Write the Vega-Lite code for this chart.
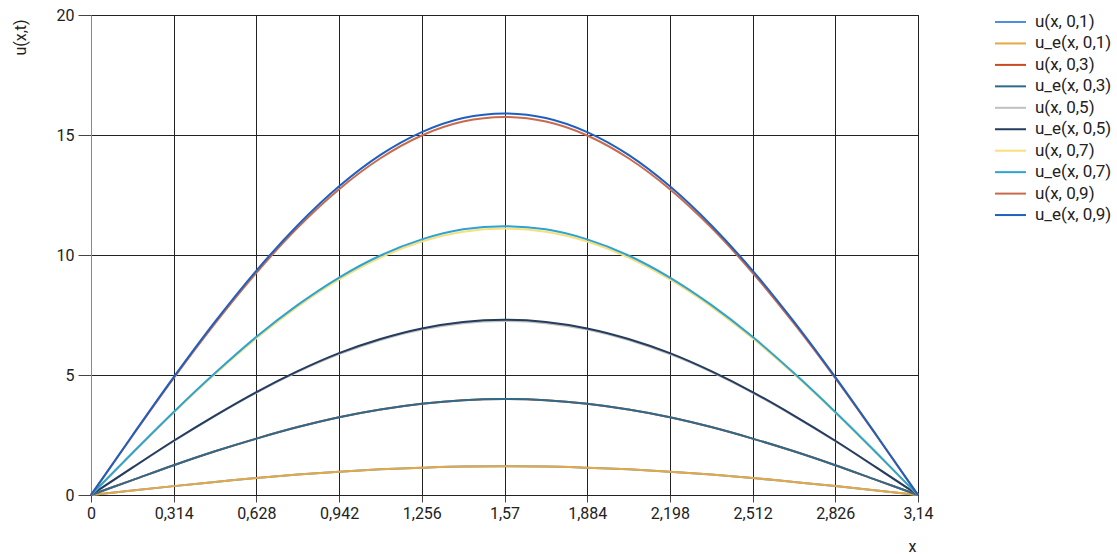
{
  "$schema": "https://vega.github.io/schema/vega-lite/v6.json",
  "width": 827,
  "height": 480,
  "autosize": "none",
  "padding": {"left": 91, "top": 15, "right": 199, "bottom": 59},
  "background": "white",
  "config": {
    "font": "Roboto",
    "view": {"stroke": "#222", "strokeWidth": 1},
    "axis": {
      "labelFont": "Roboto", "labelFontSize": 16, "labelColor": "#222",
      "titleFont": "Roboto", "titleFontSize": 16, "titleColor": "#222", "titleFontWeight": "normal",
      "gridColor": "#222", "gridOpacity": 1, "gridWidth": 1,
      "domainColor": "#444", "tickColor": "#444"
    },
    "legend": {"labelFont": "Roboto", "labelFontSize": 17, "labelColor": "#222"}
  },
  "datasets": {
    "pts": [
      {"s": "u(x, 0,1)", "x": 0, "y": 0}, {"s": "u(x, 0,1)", "x": 0.157, "y": 0.19}, {"s": "u(x, 0,1)", "x": 0.314, "y": 0.37}, {"s": "u(x, 0,1)", "x": 0.471, "y": 0.54}, {"s": "u(x, 0,1)", "x": 0.628, "y": 0.71}, {"s": "u(x, 0,1)", "x": 0.785, "y": 0.85}, {"s": "u(x, 0,1)", "x": 0.942, "y": 0.97}, {"s": "u(x, 0,1)", "x": 1.099, "y": 1.07}, {"s": "u(x, 0,1)", "x": 1.256, "y": 1.14}, {"s": "u(x, 0,1)", "x": 1.413, "y": 1.19}, {"s": "u(x, 0,1)", "x": 1.57, "y": 1.2}, {"s": "u(x, 0,1)", "x": 1.727, "y": 1.19}, {"s": "u(x, 0,1)", "x": 1.884, "y": 1.14}, {"s": "u(x, 0,1)", "x": 2.041, "y": 1.07}, {"s": "u(x, 0,1)", "x": 2.198, "y": 0.97}, {"s": "u(x, 0,1)", "x": 2.355, "y": 0.85}, {"s": "u(x, 0,1)", "x": 2.512, "y": 0.71}, {"s": "u(x, 0,1)", "x": 2.669, "y": 0.54}, {"s": "u(x, 0,1)", "x": 2.826, "y": 0.37}, {"s": "u(x, 0,1)", "x": 2.983, "y": 0.19}, {"s": "u(x, 0,1)", "x": 3.14, "y": 0},
      {"s": "u_e(x, 0,1)", "x": 0, "y": 0}, {"s": "u_e(x, 0,1)", "x": 0.157, "y": 0.19}, {"s": "u_e(x, 0,1)", "x": 0.314, "y": 0.37}, {"s": "u_e(x, 0,1)", "x": 0.471, "y": 0.54}, {"s": "u_e(x, 0,1)", "x": 0.628, "y": 0.71}, {"s": "u_e(x, 0,1)", "x": 0.785, "y": 0.85}, {"s": "u_e(x, 0,1)", "x": 0.942, "y": 0.97}, {"s": "u_e(x, 0,1)", "x": 1.099, "y": 1.07}, {"s": "u_e(x, 0,1)", "x": 1.256, "y": 1.14}, {"s": "u_e(x, 0,1)", "x": 1.413, "y": 1.19}, {"s": "u_e(x, 0,1)", "x": 1.57, "y": 1.2}, {"s": "u_e(x, 0,1)", "x": 1.727, "y": 1.19}, {"s": "u_e(x, 0,1)", "x": 1.884, "y": 1.14}, {"s": "u_e(x, 0,1)", "x": 2.041, "y": 1.07}, {"s": "u_e(x, 0,1)", "x": 2.198, "y": 0.97}, {"s": "u_e(x, 0,1)", "x": 2.355, "y": 0.85}, {"s": "u_e(x, 0,1)", "x": 2.512, "y": 0.71}, {"s": "u_e(x, 0,1)", "x": 2.669, "y": 0.54}, {"s": "u_e(x, 0,1)", "x": 2.826, "y": 0.37}, {"s": "u_e(x, 0,1)", "x": 2.983, "y": 0.19}, {"s": "u_e(x, 0,1)", "x": 3.14, "y": 0},
      {"s": "u(x, 0,3)", "x": 0, "y": 0}, {"s": "u(x, 0,3)", "x": 0.157, "y": 0.62}, {"s": "u(x, 0,3)", "x": 0.314, "y": 1.24}, {"s": "u(x, 0,3)", "x": 0.471, "y": 1.82}, {"s": "u(x, 0,3)", "x": 0.628, "y": 2.35}, {"s": "u(x, 0,3)", "x": 0.785, "y": 2.83}, {"s": "u(x, 0,3)", "x": 0.942, "y": 3.24}, {"s": "u(x, 0,3)", "x": 1.099, "y": 3.56}, {"s": "u(x, 0,3)", "x": 1.256, "y": 3.8}, {"s": "u(x, 0,3)", "x": 1.413, "y": 3.95}, {"s": "u(x, 0,3)", "x": 1.57, "y": 4.0}, {"s": "u(x, 0,3)", "x": 1.727, "y": 3.95}, {"s": "u(x, 0,3)", "x": 1.884, "y": 3.8}, {"s": "u(x, 0,3)", "x": 2.041, "y": 3.56}, {"s": "u(x, 0,3)", "x": 2.198, "y": 3.24}, {"s": "u(x, 0,3)", "x": 2.355, "y": 2.83}, {"s": "u(x, 0,3)", "x": 2.512, "y": 2.35}, {"s": "u(x, 0,3)", "x": 2.669, "y": 1.82}, {"s": "u(x, 0,3)", "x": 2.826, "y": 1.24}, {"s": "u(x, 0,3)", "x": 2.983, "y": 0.62}, {"s": "u(x, 0,3)", "x": 3.14, "y": 0},
      {"s": "u_e(x, 0,3)", "x": 0, "y": 0}, {"s": "u_e(x, 0,3)", "x": 0.157, "y": 0.62}, {"s": "u_e(x, 0,3)", "x": 0.314, "y": 1.24}, {"s": "u_e(x, 0,3)", "x": 0.471, "y": 1.82}, {"s": "u_e(x, 0,3)", "x": 0.628, "y": 2.35}, {"s": "u_e(x, 0,3)", "x": 0.785, "y": 2.83}, {"s": "u_e(x, 0,3)", "x": 0.942, "y": 3.24}, {"s": "u_e(x, 0,3)", "x": 1.099, "y": 3.56}, {"s": "u_e(x, 0,3)", "x": 1.256, "y": 3.8}, {"s": "u_e(x, 0,3)", "x": 1.413, "y": 3.95}, {"s": "u_e(x, 0,3)", "x": 1.57, "y": 4.0}, {"s": "u_e(x, 0,3)", "x": 1.727, "y": 3.95}, {"s": "u_e(x, 0,3)", "x": 1.884, "y": 3.8}, {"s": "u_e(x, 0,3)", "x": 2.041, "y": 3.56}, {"s": "u_e(x, 0,3)", "x": 2.198, "y": 3.24}, {"s": "u_e(x, 0,3)", "x": 2.355, "y": 2.83}, {"s": "u_e(x, 0,3)", "x": 2.512, "y": 2.35}, {"s": "u_e(x, 0,3)", "x": 2.669, "y": 1.82}, {"s": "u_e(x, 0,3)", "x": 2.826, "y": 1.24}, {"s": "u_e(x, 0,3)", "x": 2.983, "y": 0.62}, {"s": "u_e(x, 0,3)", "x": 3.14, "y": 0},
      {"s": "u(x, 0,5)", "x": 0, "y": 0}, {"s": "u(x, 0,5)", "x": 0.157, "y": 1.13}, {"s": "u(x, 0,5)", "x": 0.314, "y": 2.24}, {"s": "u(x, 0,5)", "x": 0.471, "y": 3.29}, {"s": "u(x, 0,5)", "x": 0.628, "y": 4.26}, {"s": "u(x, 0,5)", "x": 0.785, "y": 5.13}, {"s": "u(x, 0,5)", "x": 0.942, "y": 5.87}, {"s": "u(x, 0,5)", "x": 1.099, "y": 6.46}, {"s": "u(x, 0,5)", "x": 1.256, "y": 6.89}, {"s": "u(x, 0,5)", "x": 1.413, "y": 7.16}, {"s": "u(x, 0,5)", "x": 1.57, "y": 7.25}, {"s": "u(x, 0,5)", "x": 1.727, "y": 7.16}, {"s": "u(x, 0,5)", "x": 1.884, "y": 6.89}, {"s": "u(x, 0,5)", "x": 2.041, "y": 6.46}, {"s": "u(x, 0,5)", "x": 2.198, "y": 5.87}, {"s": "u(x, 0,5)", "x": 2.355, "y": 5.13}, {"s": "u(x, 0,5)", "x": 2.512, "y": 4.26}, {"s": "u(x, 0,5)", "x": 2.669, "y": 3.29}, {"s": "u(x, 0,5)", "x": 2.826, "y": 2.24}, {"s": "u(x, 0,5)", "x": 2.983, "y": 1.13}, {"s": "u(x, 0,5)", "x": 3.14, "y": 0},
      {"s": "u_e(x, 0,5)", "x": 0, "y": 0}, {"s": "u_e(x, 0,5)", "x": 0.157, "y": 1.14}, {"s": "u_e(x, 0,5)", "x": 0.314, "y": 2.26}, {"s": "u_e(x, 0,5)", "x": 0.471, "y": 3.31}, {"s": "u_e(x, 0,5)", "x": 0.628, "y": 4.29}, {"s": "u_e(x, 0,5)", "x": 0.785, "y": 5.16}, {"s": "u_e(x, 0,5)", "x": 0.942, "y": 5.91}, {"s": "u_e(x, 0,5)", "x": 1.099, "y": 6.5}, {"s": "u_e(x, 0,5)", "x": 1.256, "y": 6.94}, {"s": "u_e(x, 0,5)", "x": 1.413, "y": 7.21}, {"s": "u_e(x, 0,5)", "x": 1.57, "y": 7.3}, {"s": "u_e(x, 0,5)", "x": 1.727, "y": 7.21}, {"s": "u_e(x, 0,5)", "x": 1.884, "y": 6.94}, {"s": "u_e(x, 0,5)", "x": 2.041, "y": 6.5}, {"s": "u_e(x, 0,5)", "x": 2.198, "y": 5.91}, {"s": "u_e(x, 0,5)", "x": 2.355, "y": 5.16}, {"s": "u_e(x, 0,5)", "x": 2.512, "y": 4.29}, {"s": "u_e(x, 0,5)", "x": 2.669, "y": 3.31}, {"s": "u_e(x, 0,5)", "x": 2.826, "y": 2.26}, {"s": "u_e(x, 0,5)", "x": 2.983, "y": 1.14}, {"s": "u_e(x, 0,5)", "x": 3.14, "y": 0},
      {"s": "u(x, 0,7)", "x": 0, "y": 0}, {"s": "u(x, 0,7)", "x": 0.157, "y": 1.73}, {"s": "u(x, 0,7)", "x": 0.314, "y": 3.43}, {"s": "u(x, 0,7)", "x": 0.471, "y": 5.04}, {"s": "u(x, 0,7)", "x": 0.628, "y": 6.53}, {"s": "u(x, 0,7)", "x": 0.785, "y": 7.85}, {"s": "u(x, 0,7)", "x": 0.942, "y": 8.98}, {"s": "u(x, 0,7)", "x": 1.099, "y": 9.89}, {"s": "u(x, 0,7)", "x": 1.256, "y": 10.56}, {"s": "u(x, 0,7)", "x": 1.413, "y": 10.97}, {"s": "u(x, 0,7)", "x": 1.57, "y": 11.1}, {"s": "u(x, 0,7)", "x": 1.727, "y": 10.97}, {"s": "u(x, 0,7)", "x": 1.884, "y": 10.56}, {"s": "u(x, 0,7)", "x": 2.041, "y": 9.89}, {"s": "u(x, 0,7)", "x": 2.198, "y": 8.98}, {"s": "u(x, 0,7)", "x": 2.355, "y": 7.85}, {"s": "u(x, 0,7)", "x": 2.512, "y": 6.53}, {"s": "u(x, 0,7)", "x": 2.669, "y": 5.04}, {"s": "u(x, 0,7)", "x": 2.826, "y": 3.43}, {"s": "u(x, 0,7)", "x": 2.983, "y": 1.73}, {"s": "u(x, 0,7)", "x": 3.14, "y": 0},
      {"s": "u_e(x, 0,7)", "x": 0, "y": 0}, {"s": "u_e(x, 0,7)", "x": 0.157, "y": 1.75}, {"s": "u_e(x, 0,7)", "x": 0.314, "y": 3.46}, {"s": "u_e(x, 0,7)", "x": 0.471, "y": 5.08}, {"s": "u_e(x, 0,7)", "x": 0.628, "y": 6.59}, {"s": "u_e(x, 0,7)", "x": 0.785, "y": 7.92}, {"s": "u_e(x, 0,7)", "x": 0.942, "y": 9.06}, {"s": "u_e(x, 0,7)", "x": 1.099, "y": 9.98}, {"s": "u_e(x, 0,7)", "x": 1.256, "y": 10.65}, {"s": "u_e(x, 0,7)", "x": 1.413, "y": 11.07}, {"s": "u_e(x, 0,7)", "x": 1.57, "y": 11.2}, {"s": "u_e(x, 0,7)", "x": 1.727, "y": 11.07}, {"s": "u_e(x, 0,7)", "x": 1.884, "y": 10.65}, {"s": "u_e(x, 0,7)", "x": 2.041, "y": 9.98}, {"s": "u_e(x, 0,7)", "x": 2.198, "y": 9.06}, {"s": "u_e(x, 0,7)", "x": 2.355, "y": 7.92}, {"s": "u_e(x, 0,7)", "x": 2.512, "y": 6.59}, {"s": "u_e(x, 0,7)", "x": 2.669, "y": 5.08}, {"s": "u_e(x, 0,7)", "x": 2.826, "y": 3.46}, {"s": "u_e(x, 0,7)", "x": 2.983, "y": 1.75}, {"s": "u_e(x, 0,7)", "x": 3.14, "y": 0},
      {"s": "u(x, 0,9)", "x": 0, "y": 0}, {"s": "u(x, 0,9)", "x": 0.157, "y": 2.46}, {"s": "u(x, 0,9)", "x": 0.314, "y": 4.87}, {"s": "u(x, 0,9)", "x": 0.471, "y": 7.15}, {"s": "u(x, 0,9)", "x": 0.628, "y": 9.26}, {"s": "u(x, 0,9)", "x": 0.785, "y": 11.14}, {"s": "u(x, 0,9)", "x": 0.942, "y": 12.74}, {"s": "u(x, 0,9)", "x": 1.099, "y": 14.03}, {"s": "u(x, 0,9)", "x": 1.256, "y": 14.98}, {"s": "u(x, 0,9)", "x": 1.413, "y": 15.56}, {"s": "u(x, 0,9)", "x": 1.57, "y": 15.75}, {"s": "u(x, 0,9)", "x": 1.727, "y": 15.56}, {"s": "u(x, 0,9)", "x": 1.884, "y": 14.98}, {"s": "u(x, 0,9)", "x": 2.041, "y": 14.03}, {"s": "u(x, 0,9)", "x": 2.198, "y": 12.74}, {"s": "u(x, 0,9)", "x": 2.355, "y": 11.14}, {"s": "u(x, 0,9)", "x": 2.512, "y": 9.26}, {"s": "u(x, 0,9)", "x": 2.669, "y": 7.15}, {"s": "u(x, 0,9)", "x": 2.826, "y": 4.87}, {"s": "u(x, 0,9)", "x": 2.983, "y": 2.46}, {"s": "u(x, 0,9)", "x": 3.14, "y": 0},
      {"s": "u_e(x, 0,9)", "x": 0, "y": 0}, {"s": "u_e(x, 0,9)", "x": 0.157, "y": 2.48}, {"s": "u_e(x, 0,9)", "x": 0.314, "y": 4.91}, {"s": "u_e(x, 0,9)", "x": 0.471, "y": 7.22}, {"s": "u_e(x, 0,9)", "x": 0.628, "y": 9.35}, {"s": "u_e(x, 0,9)", "x": 0.785, "y": 11.24}, {"s": "u_e(x, 0,9)", "x": 0.942, "y": 12.86}, {"s": "u_e(x, 0,9)", "x": 1.099, "y": 14.17}, {"s": "u_e(x, 0,9)", "x": 1.256, "y": 15.12}, {"s": "u_e(x, 0,9)", "x": 1.413, "y": 15.71}, {"s": "u_e(x, 0,9)", "x": 1.57, "y": 15.9}, {"s": "u_e(x, 0,9)", "x": 1.727, "y": 15.71}, {"s": "u_e(x, 0,9)", "x": 1.884, "y": 15.12}, {"s": "u_e(x, 0,9)", "x": 2.041, "y": 14.17}, {"s": "u_e(x, 0,9)", "x": 2.198, "y": 12.86}, {"s": "u_e(x, 0,9)", "x": 2.355, "y": 11.24}, {"s": "u_e(x, 0,9)", "x": 2.512, "y": 9.35}, {"s": "u_e(x, 0,9)", "x": 2.669, "y": 7.22}, {"s": "u_e(x, 0,9)", "x": 2.826, "y": 4.91}, {"s": "u_e(x, 0,9)", "x": 2.983, "y": 2.48}, {"s": "u_e(x, 0,9)", "x": 3.14, "y": 0}
    ]
  },
  "data": {"name": "pts"},
  "mark": {"type": "line", "strokeWidth": 2, "interpolate": "monotone"},
  "encoding": {
    "x": {
      "field": "x", "type": "quantitative",
      "scale": {"domain": [0, 3.14], "nice": false, "zero": false},
      "axis": {
        "title": "x",
        "values": [0, 0.314, 0.628, 0.942, 1.256, 1.57, 1.884, 2.198, 2.512, 2.826, 3.14],
        "labelExpr": "replace(format(datum.value, '~g'), '.', ',')",
        "tickSize": 7, "labelPadding": 3, "labelFlush": false,
        "titleX": 821, "titleY": 51, "titleAlign": "center", "titleBaseline": "middle",
        "domainColor": "#222"
      }
    },
    "y": {
      "field": "y", "type": "quantitative",
      "scale": {"domain": [0, 20], "nice": false},
      "axis": {
        "title": "u(x,t)",
        "values": [0, 5, 10, 15, 20],
        "tickSize": 13, "labelPadding": 4, "labelFlush": false,
        "titleX": -71, "titleY": 22, "titleAngle": 270, "titleAlign": "center", "titleBaseline": "middle",
        "domainColor": "#888"
      }
    },
    "color": {
      "field": "s", "type": "nominal",
      "sort": ["u(x, 0,1)", "u_e(x, 0,1)", "u(x, 0,3)", "u_e(x, 0,3)", "u(x, 0,5)", "u_e(x, 0,5)", "u(x, 0,7)", "u_e(x, 0,7)", "u(x, 0,9)", "u_e(x, 0,9)"],
      "scale": {
        "domain": ["u(x, 0,1)", "u_e(x, 0,1)", "u(x, 0,3)", "u_e(x, 0,3)", "u(x, 0,5)", "u_e(x, 0,5)", "u(x, 0,7)", "u_e(x, 0,7)", "u(x, 0,9)", "u_e(x, 0,9)"],
        "range": ["#4a90dc", "#e6a843", "#c94a1e", "#2d6b8c", "#c0c0c0", "#243c5e", "#f7e07a", "#2ea3d2", "#c96a4c", "#1f5fc0"]
      },
      "legend": {
        "title": null,
        "orient": "none",
        "legendX": 911,
        "legendY": -1.5,
        "symbolType": "M-3.1,0H3.1",
        "symbolStrokeWidth": 2,
        "symbolSize": 100,
        "rowPadding": 3.45,
        "labelOffset": 16
      }
    }
  }
}
